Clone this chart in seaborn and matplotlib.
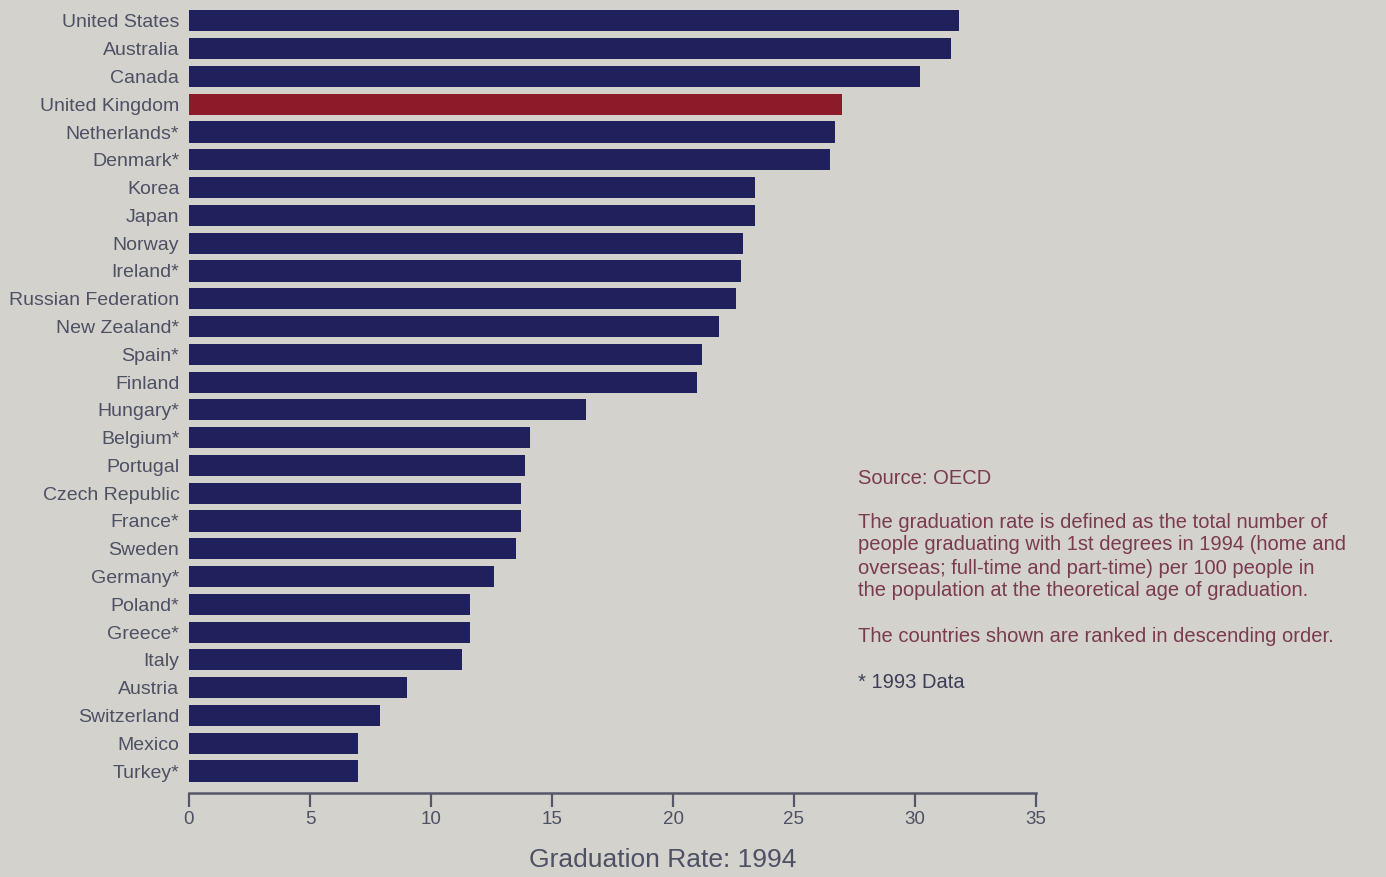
import matplotlib
matplotlib.use("Agg")
import matplotlib.pyplot as plt
import seaborn as sns
import pandas as pd

countries = ["United States", "Australia", "Canada", "United Kingdom", "Netherlands*",
             "Denmark*", "Korea", "Japan", "Norway", "Ireland*", "Russian Federation",
             "New Zealand*", "Spain*", "Finland", "Hungary*", "Belgium*", "Portugal",
             "Czech Republic", "France*", "Sweden", "Germany*", "Poland*", "Greece*",
             "Italy", "Austria", "Switzerland", "Mexico", "Turkey*"]
rates = [31.8, 31.5, 30.2, 27.0, 26.7, 26.5, 23.4, 23.4, 22.9, 22.8, 22.6,
         21.9, 21.2, 21.0, 16.4, 14.1, 13.9, 13.7, 13.7, 13.5, 12.6, 11.6, 11.6,
         11.3, 9.0, 7.9, 7.0, 7.0]
highlight = "United Kingdom"
xticks = [0, 5, 10, 15, 20, 25, 30, 35]

navy = "#1f205c"
red = "#8c1a28"
bg = "#d3d2cc"
label_col = "#4e5064"
note_col = "#7a3a50"
axis_col = "#55566a"

sns.set_theme(style="white")
plt.rcParams["font.family"] = ["Liberation Sans", "DejaVu Sans"]

df = pd.DataFrame({"country": countries, "rate": rates})
df["group"] = ["hl" if c == highlight else "n" for c in countries]

fig = plt.figure(figsize=(13.86, 8.77), dpi=100, facecolor=bg)
ax = fig.add_axes([189 / 1386, 84 / 877, (1036 - 189) / 1386, (793 - 7) / 877])
ax.set_facecolor(bg)

sns.barplot(data=df, x="rate", y="country", hue="group",
            palette={"n": navy, "hl": red}, dodge=False, legend=False,
            width=0.76, saturation=1, linewidth=0, edgecolor="none",
            ax=ax, orient="h")

ax.set_xlim(0, 35)
ax.set_ylim(27.79, -0.5)
ax.set_xticks(xticks)
ax.set_xticklabels([str(t) for t in xticks], fontsize=13.5, color=label_col)
ax.tick_params(axis="x", bottom=True, direction="out", length=10, width=1.6,
               color=axis_col, pad=3)
ax.tick_params(axis="y", left=False, length=0, pad=7, labelsize=14, labelcolor=label_col)
ax.set_ylabel("")
ax.set_xlabel("Graduation Rate: 1994", fontsize=19, color=label_col)
ax.xaxis.set_label_coords((663 - 189) / 847, -55 / 786)
for s in ["top", "right", "left"]:
    ax.spines[s].set_visible(False)
ax.spines["bottom"].set_color(axis_col)
ax.spines["bottom"].set_linewidth(1.8)

note_lines = [
    (478, "Source: OECD", note_col),
    (522, "The graduation rate is defined as the total number of", note_col),
    (545, "people graduating with 1st degrees in 1994 (home and", note_col),
    (568, "overseas; full-time and part-time) per 100 people in", note_col),
    (590, "the population at the theoretical age of graduation.", note_col),
    (636, "The countries shown are ranked in descending order.", note_col),
    (683, "* 1993 Data", "#3c3d58"),
]
for ypix, txt, col in note_lines:
    fig.text(858 / 1386, 1 - ypix / 877, txt, fontsize=14.5, color=col,
             ha="left", va="center")

fig.savefig("out.png", dpi=100, facecolor=bg)
